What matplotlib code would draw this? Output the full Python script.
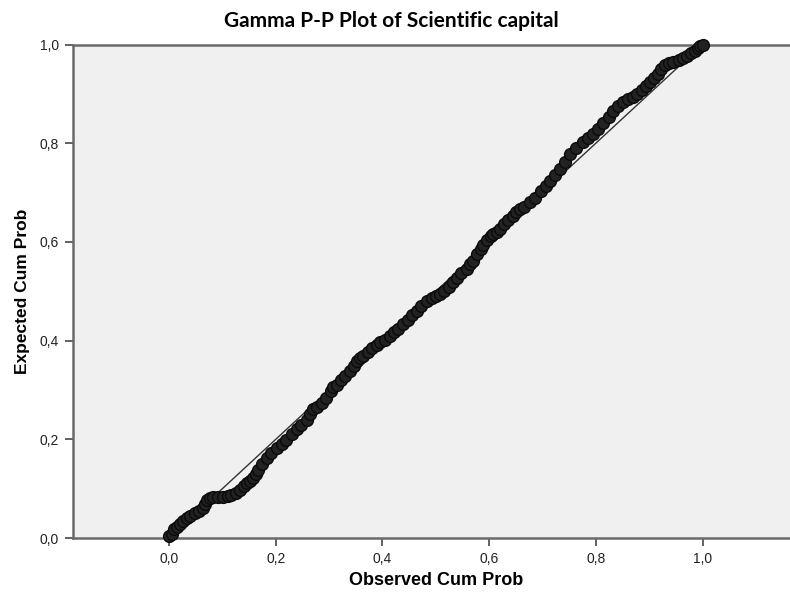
import matplotlib.pyplot as plt

# observed / expected cumulative probabilities
observed = [
    0.000, 0.005, 0.010, 0.014, 0.020, 0.026, 0.033, 0.040, 0.049, 0.057,
    0.064, 0.068, 0.071, 0.077, 0.083, 0.092, 0.102, 0.110, 0.117, 0.125,
    0.133, 0.140, 0.146, 0.152, 0.158, 0.163, 0.167, 0.175, 0.183, 0.192,
    0.202, 0.211, 0.220, 0.230, 0.239, 0.248, 0.258, 0.265, 0.270, 0.277,
    0.286, 0.295, 0.303, 0.308, 0.314, 0.322, 0.330, 0.339, 0.346, 0.352,
    0.358, 0.364, 0.372, 0.380, 0.389, 0.396, 0.405, 0.414, 0.422, 0.430,
    0.439, 0.447, 0.455, 0.464, 0.472, 0.483, 0.492, 0.500, 0.508, 0.516,
    0.525, 0.533, 0.539, 0.547, 0.558, 0.564, 0.570, 0.578, 0.584, 0.589,
    0.596, 0.603, 0.608, 0.614, 0.620, 0.628, 0.636, 0.644, 0.651, 0.658,
    0.666, 0.676, 0.686, 0.698, 0.706, 0.714, 0.723, 0.733, 0.742, 0.751,
    0.762, 0.776, 0.786, 0.795, 0.805, 0.814, 0.824, 0.833, 0.842, 0.851,
    0.860, 0.870, 0.878, 0.886, 0.894, 0.901, 0.909, 0.917, 0.923, 0.929,
    0.937, 0.945, 0.955, 0.964, 0.971, 0.979, 0.986, 0.992, 0.996, 1.000,
]
expected = [
    0.004, 0.008, 0.018, 0.023, 0.028, 0.034, 0.040, 0.045, 0.050, 0.055,
    0.060, 0.068, 0.077, 0.081, 0.083, 0.084, 0.084, 0.086, 0.087, 0.092,
    0.098, 0.105, 0.111, 0.116, 0.121, 0.130, 0.138, 0.150, 0.162, 0.172,
    0.182, 0.190, 0.199, 0.210, 0.220, 0.230, 0.240, 0.252, 0.262, 0.266,
    0.274, 0.284, 0.298, 0.306, 0.311, 0.320, 0.328, 0.338, 0.348, 0.358,
    0.364, 0.368, 0.376, 0.385, 0.392, 0.397, 0.402, 0.409, 0.417, 0.424,
    0.433, 0.442, 0.451, 0.460, 0.470, 0.480, 0.486, 0.490, 0.494, 0.500,
    0.509, 0.518, 0.527, 0.536, 0.545, 0.556, 0.562, 0.575, 0.585, 0.594,
    0.603, 0.611, 0.616, 0.621, 0.626, 0.636, 0.645, 0.653, 0.660, 0.666,
    0.670, 0.680, 0.690, 0.704, 0.714, 0.724, 0.735, 0.748, 0.762, 0.778,
    0.790, 0.802, 0.811, 0.819, 0.829, 0.841, 0.853, 0.865, 0.876, 0.884,
    0.889, 0.894, 0.900, 0.907, 0.915, 0.924, 0.932, 0.941, 0.950, 0.958,
    0.962, 0.965, 0.968, 0.972, 0.976, 0.982, 0.987, 0.992, 0.997, 1.000,
]

ticks = [0.0, 0.2, 0.4, 0.6, 0.8, 1.0]
tick_labels = ["0,0", "0,2", "0,4", "0,6", "0,8", "1,0"]

fig = plt.figure(figsize=(7.9, 5.92), dpi=100)
ax = fig.add_axes([0.0918, 0.0912, 0.9082, 0.8336])
ax.set_facecolor("#f0f0f0")

# reference diagonal
ax.plot([0, 1], [0, 1], color="#333333", lw=1.0, zorder=2)
ax.plot(observed, expected, linestyle="none", marker="o", markersize=8.5,
        markerfacecolor="#222222", markeredgecolor="#0a0a0a",
        markeredgewidth=1.0, zorder=3, clip_on=False)

ax.set_xlim(-0.181, 1.164)
ax.set_ylim(0, 1)
ax.set_xticks(ticks)
ax.set_xticklabels(tick_labels)
ax.set_yticks(ticks)
ax.set_yticklabels(tick_labels)

for side in ["top", "left", "bottom"]:
    ax.spines[side].set_color("#6a6a6a")
    ax.spines[side].set_linewidth(1.8)
ax.spines["right"].set_visible(False)
ax.tick_params(length=6, width=1.3, color="#555555", labelsize=10,
               labelcolor="#222222", pad=4)
for lab in ax.get_xticklabels() + ax.get_yticklabels():
    lab.set_family("Liberation Sans")

ax.set_xlabel("Observed Cum Prob", fontsize=13, fontweight="bold",
              family="Liberation Sans", va="center")
ax.xaxis.set_label_coords(0.507, -0.087)
ax.set_ylabel("Expected Cum Prob", fontsize=12.5, fontweight="bold",
              family="Liberation Sans", va="center")
ax.yaxis.set_label_coords(-0.070, 0.5)

fig.text(0.495, 0.982, "Gamma P-P Plot of Scientific capital", ha="center",
         va="top", fontsize=15, fontweight="bold", family="Lato")

fig.savefig("out.png", dpi=100)
